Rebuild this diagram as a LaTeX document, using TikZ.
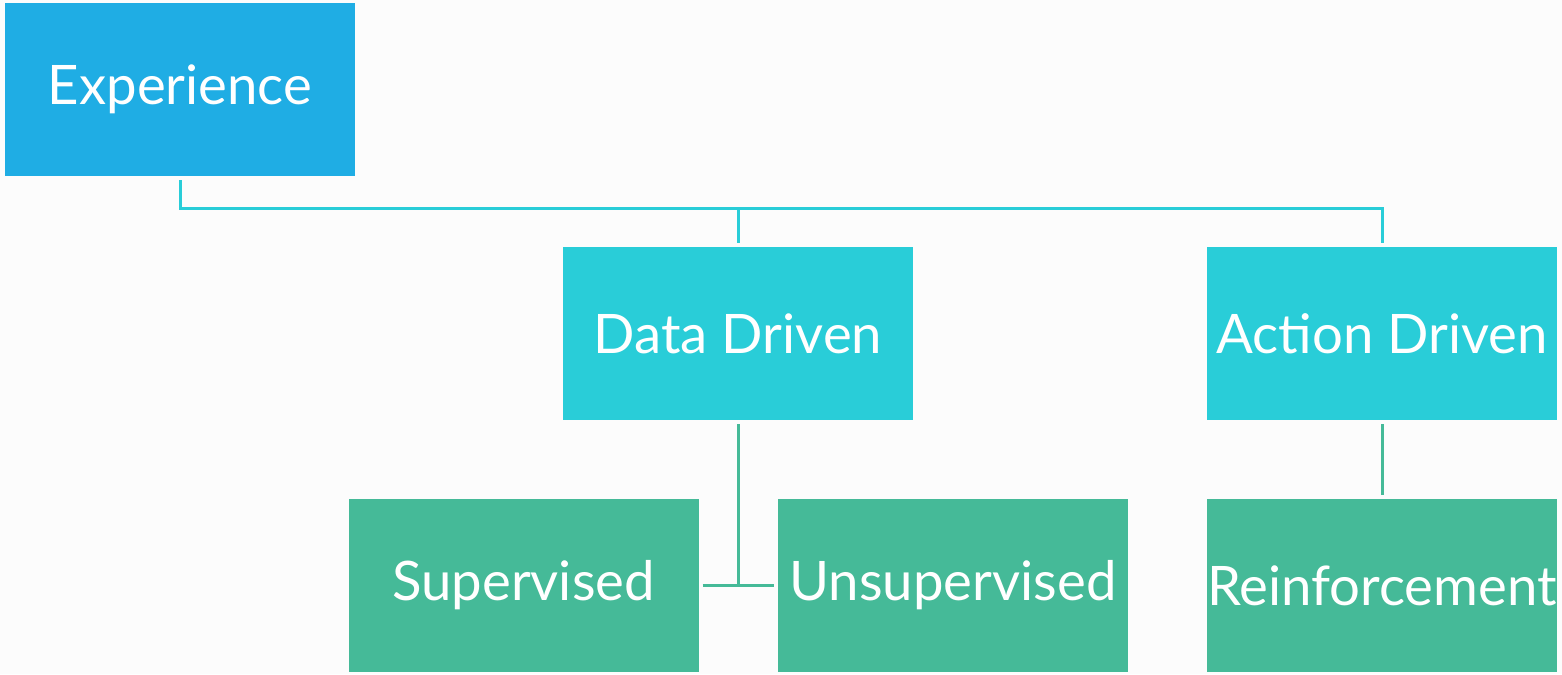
\documentclass[tikz,border=0pt]{standalone}
\usepackage{fontspec}
\setmainfont{Lato}
\usetikzlibrary{positioning,calc}
\definecolor{expblue}{HTML}{1FADE4}
\definecolor{drivecyan}{HTML}{29CDD8}
\definecolor{leafgreen}{HTML}{45BA98}
\definecolor{paper}{HTML}{FCFCFC}
\tikzstyle{box} = [rectangle, minimum width=3.5cm, minimum height=1.73cm, inner sep=0pt, outer sep=0.04cm, text=white, font=\fontsize{15.5}{18}\selectfont]
\tikzstyle{cyanline} = [draw=drivecyan, line width=0.03cm]
\tikzstyle{greenline} = [draw=leafgreen, line width=0.03cm]
\begin{document}
\begin{tikzpicture}
\fill[paper] (0,0) rectangle (15.62,6.74);
\useasboundingbox (0,0) rectangle (15.62,6.74);
\node (exp) at (1.80,5.845) [box, fill=expblue] {Experience};
\node (dd) at (7.38,3.405) [box, fill=drivecyan] {Data Driven};
\node (act) at (13.82,3.405) [box, fill=drivecyan] {Action Driven};
\node (sup) at (5.235,0.885) [box, fill=leafgreen] {Supervised};
\node (uns) at (9.53,0.885) [box, fill=leafgreen] {Unsupervised};
\node (rein) at (13.82,0.885) [box, fill=leafgreen] {Reinforcement};
\coordinate (bus) at (0,4.66);
\draw[cyanline] (exp.south) -- (exp.south|-bus) -| (act.north);
\draw[cyanline] (dd.north|-bus) -- (dd.north);
\draw[greenline] (dd.south) -- (dd.south|-sup.east);
\draw[greenline] (sup.east) -- (uns.west);
\draw[greenline] (act.south) -- (rein.north);
\end{tikzpicture}
\end{document}
